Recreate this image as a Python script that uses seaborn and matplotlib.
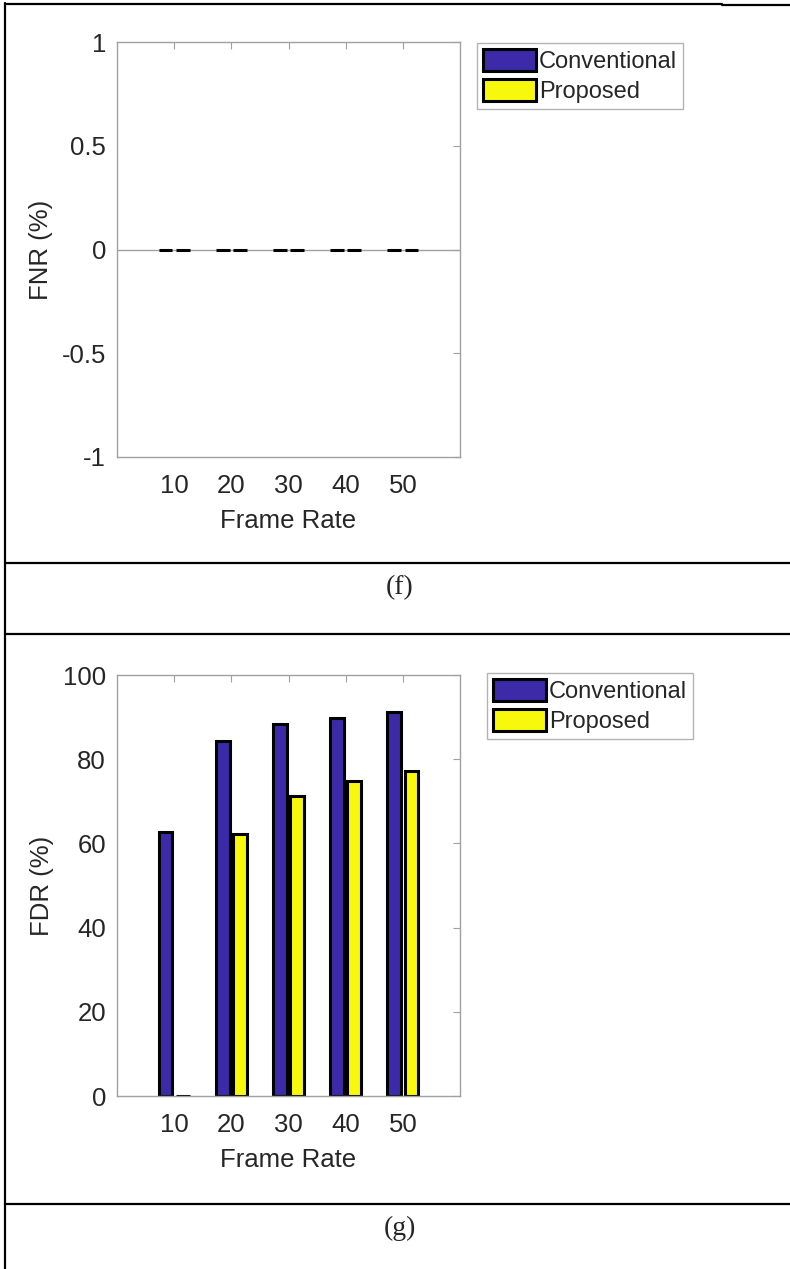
import seaborn as sns
import matplotlib.pyplot as plt
import pandas as pd
from matplotlib.lines import Line2D
from matplotlib.patches import Patch

# data
frame_rates = [10, 20, 30, 40, 50]
methods = ['Conventional', 'Proposed']
fnr_conventional = [0, 0, 0, 0, 0]
fnr_proposed = [0, 0, 0, 0, 0]
fdr_conventional = [62.8, 84.4, 88.4, 89.8, 91.1]
fdr_proposed = [0, 62.3, 71.3, 74.8, 77.2]

colors = {'Conventional': '#3c2aa8', 'Proposed': '#f8f80c'}

sns.set_style('white')
plt.rcParams['font.family'] = ['Liberation Sans', 'DejaVu Sans']
plt.rcParams['axes.unicode_minus'] = False

def to_frame(conv, prop):
    return pd.DataFrame({
        'rate': frame_rates * 2,
        'method': ['Conventional'] * 5 + ['Proposed'] * 5,
        'value': conv + prop,
    })

fig = plt.figure(figsize=(7.9, 12.69), dpi=100)
W, H = 790, 1269

def px_axes(left, top, right, bottom):
    return fig.add_axes([left / W, 1 - bottom / H, (right - left) / W, (bottom - top) / H])

ax1 = px_axes(117, 42, 460, 457)
ax2 = px_axes(117, 675, 460, 1096)

grey = '#a0a0a0'
txt = '#262626'
fs = 18.5

def draw(ax, df, ylim, yticks, yticklabels, ylabel, legend_xy):
    sns.barplot(data=df, x='rate', y='value', hue='method', palette=colors,
                saturation=1, width=0.6, gap=0.2, edgecolor='black', linewidth=2.2,
                ax=ax, legend=False, errorbar=None)
    ax.set_xlim(-1, 5)
    ax.set_ylim(*ylim)
    ax.set_yticks(yticks)
    ax.set_yticklabels(yticklabels)
    ax.set_xticks(range(5))
    ax.set_xticklabels([str(r) for r in frame_rates])
    ax.set_xlabel('Frame Rate', fontsize=fs, color=txt, labelpad=8)
    ax.set_ylabel(ylabel, fontsize=fs, color=txt, labelpad=6)
    ax.tick_params(direction='in', length=5, color=grey, labelsize=fs,
                   labelcolor=txt, top=True, right=True, pad=8)
    ax.tick_params(axis='x', pad=12)
    for s in ax.spines.values():
        s.set_color(grey)
        s.set_linewidth(1)
    handles = [Patch(facecolor=colors[m], edgecolor='black', linewidth=2.2, label=m)
               for m in methods]
    leg = ax.legend(handles=handles, loc='upper left',
                    bbox_to_anchor=(legend_xy[0] / W, 1 - legend_xy[1] / H),
                    bbox_transform=fig.transFigure, borderaxespad=0,
                    fontsize=17, handlelength=2.25, handleheight=1.05,
                    handletextpad=0.12, labelspacing=0.25, borderpad=0.25,
                    fancybox=False, frameon=True)
    leg.get_frame().set_edgecolor(grey)
    leg.get_frame().set_linewidth(1)
    for t in leg.get_texts():
        t.set_color(txt)

draw(ax1, to_frame(fnr_conventional, fnr_proposed), (-1, 1),
     [-1, -0.5, 0, 0.5, 1], ['-1', '-0.5', '0', '0.5', '1'], 'FNR (%)', (477, 43))
ax1.axhline(0, color=grey, linewidth=1, zorder=0.5)

draw(ax2, to_frame(fdr_conventional, fdr_proposed), (0, 100),
     [0, 20, 40, 60, 80, 100], ['0', '20', '40', '60', '80', '100'], 'FDR (%)', (487, 673))

# table borders around the panels
def hline(y, x0=5, x1=790):
    fig.add_artist(Line2D([x0 / W, x1 / W], [1 - y / H, 1 - y / H], color='black', linewidth=1.6))

hline(4, 5, 722)
hline(5, 722, 790)
hline(563)
hline(634)
hline(1204)
fig.add_artist(Line2D([5 / W, 5 / W], [0, 1 - 3 / H], color='black', linewidth=1.6))

fig.text(400 / W, 1 - 588 / H, '(f)', ha='center', va='center', fontsize=20,
         family=['Liberation Serif', 'DejaVu Serif'])
fig.text(400 / W, 1 - 1228 / H, '(g)', ha='center', va='center', fontsize=20,
         family=['Liberation Serif', 'DejaVu Serif'])

fig.savefig('out.png', dpi=100)
